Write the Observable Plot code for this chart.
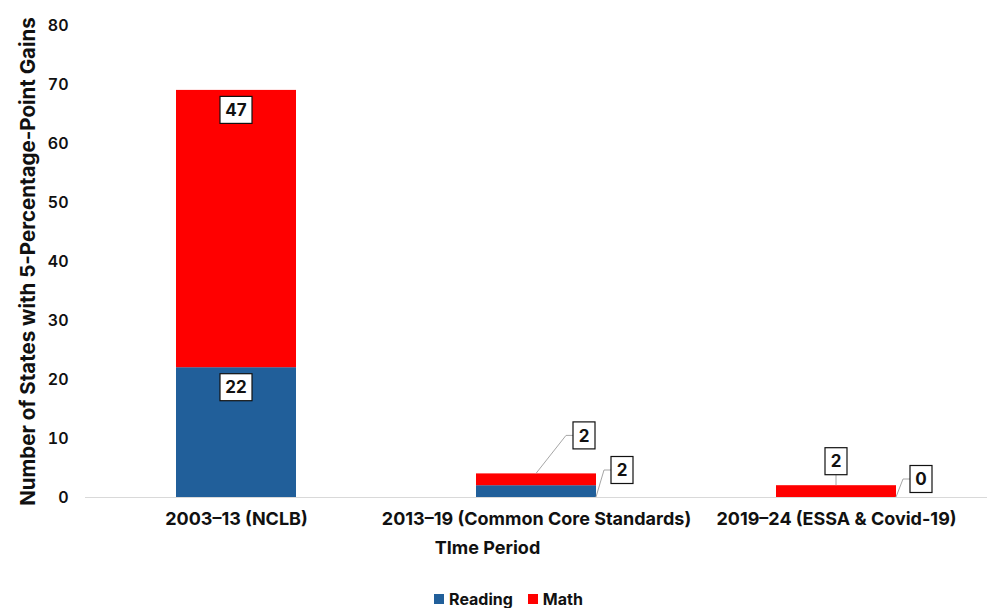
<!DOCTYPE html>
<html>
<head>
<meta charset="utf-8">
<script src="https://cdn.jsdelivr.net/npm/d3@7"></script>
<script src="https://cdn.jsdelivr.net/npm/@observablehq/plot@0.6"></script>
<style>
  html, body { margin: 0; padding: 0; background: #fff; }
  body { width: 987px; height: 608px; overflow: hidden; font-family: Inter, "Noto Sans", sans-serif; }
  #chart svg { display: block; }
  .legend { display: flex; justify-content: center; gap: 15px; margin-top: 30px; margin-left: 30px;
            font-size: 16px; font-weight: 700; color: #111; line-height: 18px; }
  .legend span { display: inline-flex; align-items: center; gap: 5px; }
  .legend i { display: inline-block; width: 10px; height: 10px; }
</style>
</head>
<body>
<div id="chart"></div>
<div class="legend" id="legend"></div>
<script>
// Time periods, series and the number of states with 5-point gains in each
const periods = ["2003–13 (NCLB)", "2013–19 (Common Core Standards)", "2019–24 (ESSA & Covid-19)"];
const series = ["Reading", "Math"];
const reading = [22, 2, 0];
const math = [47, 2, 2];
const yTicks = [0, 10, 20, 30, 40, 50, 60, 70, 80];
const colors = ["#215F9A", "#FF0000"];

// Long-format rows for the stacked bars (Reading at the bottom)
const rows = periods.flatMap((p, i) => [
  {period: p, series: "Reading", value: reading[i], y1: 0, y2: reading[i]},
  {period: p, series: "Math", value: math[i], y1: reading[i], y2: reading[i] + math[i]}
]);

// Where each value box sits relative to its segment (pixel offsets)
const labelLayout = {
  "0|Reading": {anchor: "inside"},
  "0|Math": {anchor: "inside"},
  "1|Reading": {anchor: "bottom-right", dx: 26, dy: -27},
  "1|Math": {anchor: "top-center", dx: 48, dy: -38},
  "2|Reading": {anchor: "bottom-right", dx: 25, dy: -18},
  "2|Math": {anchor: "top-center", dx: 0, dy: -24}
};

// Boxed value labels, with leader lines for the callouts
function valueLabels(index, scales) {
  const g = d3.create("svg:g");
  const bw = scales.x.bandwidth();
  rows.forEach(r => {
    const i = periods.indexOf(r.period);
    const lay = labelLayout[i + "|" + r.series];
    const left = scales.x(r.period), cx = left + bw / 2, right = left + bw;
    const text = String(r.value);
    const w = text.length * 10 + 12, h = 27;
    let bx, by;
    if (lay.anchor === "inside") {
      bx = cx; by = scales.y(r.y2) + 20;
    } else {
      const ax = lay.anchor === "top-center" ? cx : right;
      const ay = lay.anchor === "top-center" ? scales.y(r.y2) : scales.y(r.y1);
      bx = ax + lay.dx; by = ay + lay.dy;
      let pts;
      if (lay.dx === 0) {
        pts = [[ax, ay], [bx, by + h / 2]];
      } else {
        const edge = bx - w / 2;
        pts = [[ax, ay], [edge - 7, by], [edge, by]];
      }
      g.append("path").attr("d", d3.line()(pts))
        .attr("fill", "none").attr("stroke", "#a6a6a6").attr("stroke-width", 1);
    }
    g.append("rect").attr("x", bx - w / 2).attr("y", by - h / 2)
      .attr("width", w).attr("height", h)
      .attr("fill", "#fff").attr("stroke", "#111").attr("stroke-width", 1.2);
    g.append("text").attr("x", bx).attr("y", by).attr("dy", "0.36em")
      .attr("text-anchor", "middle").attr("font-size", 17).attr("font-weight", 700)
      .attr("fill", "#111").text(text);
  });
  return g.node();
}

const chart = Plot.plot({
  width: 987,
  height: 560,
  marginLeft: 85,
  marginRight: 0,
  marginTop: 25,
  marginBottom: 63,
  style: {fontFamily: "Inter, 'Noto Sans', sans-serif", color: "#111", background: "#fff"},
  x: {domain: periods, paddingInner: 0.6, paddingOuter: 0.3, label: null},
  y: {domain: [0, 80], label: null},
  color: {domain: series, range: colors},
  marks: [
    Plot.barY(rows, {x: "period", y1: "y1", y2: "y2", fill: "series"}),
    Plot.ruleY([0], {stroke: "#d9d9d9", strokeWidth: 1.2}),
    Plot.axisY({ticks: yTicks, tickSize: 0, tickPadding: 17, fontSize: 16, fontWeight: 600, label: null}),
    Plot.axisX({tickSize: 0, tickPadding: 15, fontSize: 18, fontWeight: 700, label: null}),
    Plot.text(["Number of States with 5-Percentage-Point Gains"], {
      frameAnchor: "left", textAnchor: "middle", rotate: -90, dx: -57,
      fontSize: 20.5, fontWeight: 700, fill: "#111"
    }),
    Plot.text(["TIme Period"], {
      frameAnchor: "bottom", textAnchor: "middle", dy: 56, dx: -49,
      fontSize: 18, fontWeight: 700, fill: "#111"
    }),
    valueLabels
  ]
});
document.getElementById("chart").append(chart);

// Legend below the chart
const legend = document.getElementById("legend");
series.forEach((s, i) => {
  const item = document.createElement("span");
  const sw = document.createElement("i");
  sw.style.background = colors[i];
  item.append(sw, document.createTextNode(s));
  legend.append(item);
});
</script>
</body>
</html>
